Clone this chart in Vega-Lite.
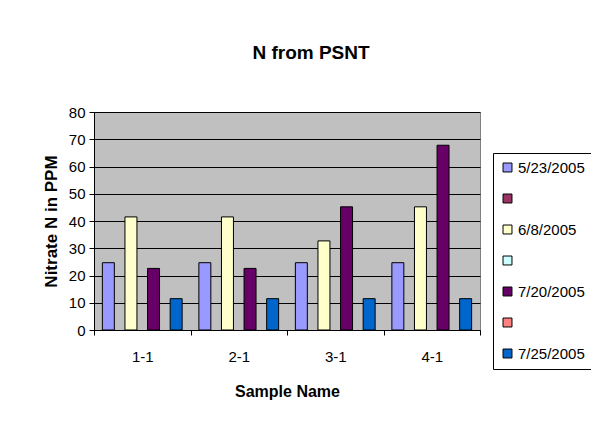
{
  "$schema": "https://vega.github.io/schema/vega-lite/v6.json",
  "width": 386,
  "height": 218,
  "autosize": {"type": "none"},
  "padding": {"left": 94, "top": 112, "right": 111, "bottom": 113},
  "background": "white",
  "title": {
    "text": "N from PSNT",
    "font": "Liberation Sans",
    "fontSize": 19,
    "fontWeight": "bold",
    "color": "black",
    "anchor": "middle",
    "dx": 24,
    "offset": 42
  },
  "data": {
    "values": [
      {"sample": "1-1", "date": "5/23/2005", "nitrate": 24.7},
      {"sample": "1-1", "date": "6/8/2005", "nitrate": 41.5},
      {"sample": "1-1", "date": "7/20/2005", "nitrate": 22.6},
      {"sample": "1-1", "date": "7/25/2005", "nitrate": 11.5},
      {"sample": "2-1", "date": "5/23/2005", "nitrate": 24.7},
      {"sample": "2-1", "date": "6/8/2005", "nitrate": 41.5},
      {"sample": "2-1", "date": "7/20/2005", "nitrate": 22.6},
      {"sample": "2-1", "date": "7/25/2005", "nitrate": 11.5},
      {"sample": "3-1", "date": "5/23/2005", "nitrate": 24.7},
      {"sample": "3-1", "date": "6/8/2005", "nitrate": 32.7},
      {"sample": "3-1", "date": "7/20/2005", "nitrate": 45.2},
      {"sample": "3-1", "date": "7/25/2005", "nitrate": 11.5},
      {"sample": "4-1", "date": "5/23/2005", "nitrate": 24.7},
      {"sample": "4-1", "date": "6/8/2005", "nitrate": 45.2},
      {"sample": "4-1", "date": "7/20/2005", "nitrate": 67.8},
      {"sample": "4-1", "date": "7/25/2005", "nitrate": 11.5}
    ]
  },
  "mark": {"type": "bar", "stroke": "black", "strokeWidth": 1},
  "encoding": {
    "x": {
      "field": "sample",
      "type": "nominal",
      "sort": ["1-1", "2-1", "3-1", "4-1"],
      "scale": {"paddingInner": 0, "paddingOuter": 0},
      "axis": {
        "title": "Sample Name",
        "titleFont": "Liberation Sans",
        "titleFontSize": 16,
        "titleFontWeight": "bold",
        "titleColor": "black",
        "titlePadding": 19,
        "labelFont": "Liberation Sans",
        "labelFontSize": 15,
        "labelColor": "black",
        "labelAngle": 0,
        "labelPadding": 14,
        "tickBand": "extent",
        "tickSize": 5,
        "tickColor": "black",
        "domainColor": "black",
        "grid": false
      }
    },
    "xOffset": {
      "field": "date",
      "type": "nominal",
      "scale": {
        "domain": ["5/23/2005", "6/8/2005", "7/20/2005", "7/25/2005"],
        "paddingInner": 0.47,
        "paddingOuter": 0.37
      }
    },
    "y": {
      "field": "nitrate",
      "type": "quantitative",
      "scale": {"domain": [0, 80], "nice": false},
      "axis": {
        "title": "Nitrate N in PPM",
        "titleFont": "Liberation Sans",
        "titleFontSize": 17,
        "titleFontWeight": "bold",
        "titleColor": "black",
        "titlePadding": 8,
        "values": [0, 10, 20, 30, 40, 50, 60, 70, 80],
        "labelFont": "Liberation Sans",
        "labelFontSize": 15,
        "labelColor": "black",
        "labelPadding": 4,
        "tickSize": 5,
        "tickColor": "black",
        "domainColor": "black",
        "grid": true,
        "gridColor": "black",
        "gridWidth": 1,
        "gridOpacity": 1
      }
    },
    "color": {
      "field": "date",
      "type": "nominal",
      "scale": {
        "domain": ["5/23/2005", "b1", "6/8/2005", "b2", "7/20/2005", "b3", "7/25/2005"],
        "range": ["#9999FF", "#993366", "#FFFFCC", "#CCFFFF", "#660066", "#FF8080", "#0066CC"]
      },
      "legend": {
        "title": null,
        "orient": "none",
        "legendX": 399,
        "legendY": 41,
        "direction": "vertical",
        "padding": 7,
        "rowPadding": 15,
        "strokeColor": "black",
        "fillColor": "white",
        "symbolType": "square",
        "symbolSize": 80,
        "symbolStrokeColor": "black",
        "symbolStrokeWidth": 1,
        "symbolOpacity": 1,
        "labelFont": "Liberation Sans",
        "labelFontSize": 15,
        "labelColor": "black",
        "labelOffset": 3,
        "labelExpr": "length(datum.label) < 4 ? '' : datum.label"
      }
    }
  },
  "config": {
    "view": {"fill": "#C0C0C0", "stroke": "#808080", "strokeWidth": 1}
  }
}
